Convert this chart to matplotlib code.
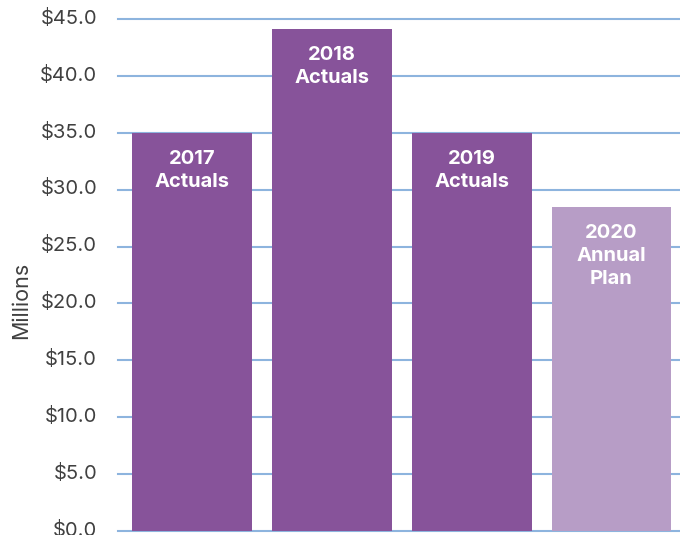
import matplotlib
matplotlib.use("Agg")
import matplotlib.pyplot as plt
from matplotlib.ticker import FuncFormatter, MultipleLocator
from matplotlib.transforms import ScaledTranslation

categories = ["2017\nActuals", "2018\nActuals", "2019\nActuals", "2020\nAnnual\nPlan"]
values = [35.0, 44.1, 35.0, 28.5]
colors = ["#87539A", "#87539A", "#87539A", "#B79DC6"]

plt.rcParams['font.family'] = ['Inter', 'DejaVu Sans']

fig = plt.figure(figsize=(6.8, 5.35), dpi=100)
ax = fig.add_axes([118/680, 4/535, 1 - 118/680, 512/535])

x = list(range(len(values)))
ax.bar(x, values, width=0.857, color=colors, zorder=3)

for xi, v, lab in zip(x, values, categories):
    ax.text(xi, v - 1.5, lab, ha="center", va="top", color="white",
            fontsize=14.5, fontweight="bold", linespacing=1.35, zorder=4)

ax.set_xlim(-0.53, 3.49)
ax.set_ylim(0, 45)
ax.yaxis.set_major_locator(MultipleLocator(5))
ax.yaxis.set_major_formatter(FuncFormatter(lambda v, p: f"${v:.1f}"))
ax.grid(axis="y", color="#8DB4DE", linewidth=1.5, zorder=0)
ax.set_xticks([])
for s in ax.spines.values():
    s.set_visible(False)
ax.tick_params(axis="y", length=0, pad=15, labelsize=14.5, labelcolor="#404040")
shift = ScaledTranslation(0, 2/72, fig.dpi_scale_trans)
for lbl in ax.get_yticklabels():
    lbl.set_transform(lbl.get_transform() + shift)
ax.set_ylabel("Millions", fontsize=15.5, color="#404040")
ax.yaxis.set_label_coords(-0.155, 0.45)
for line in ax.get_ygridlines():
    line.set_clip_on(False)

fig.savefig("out.png", dpi=100)
